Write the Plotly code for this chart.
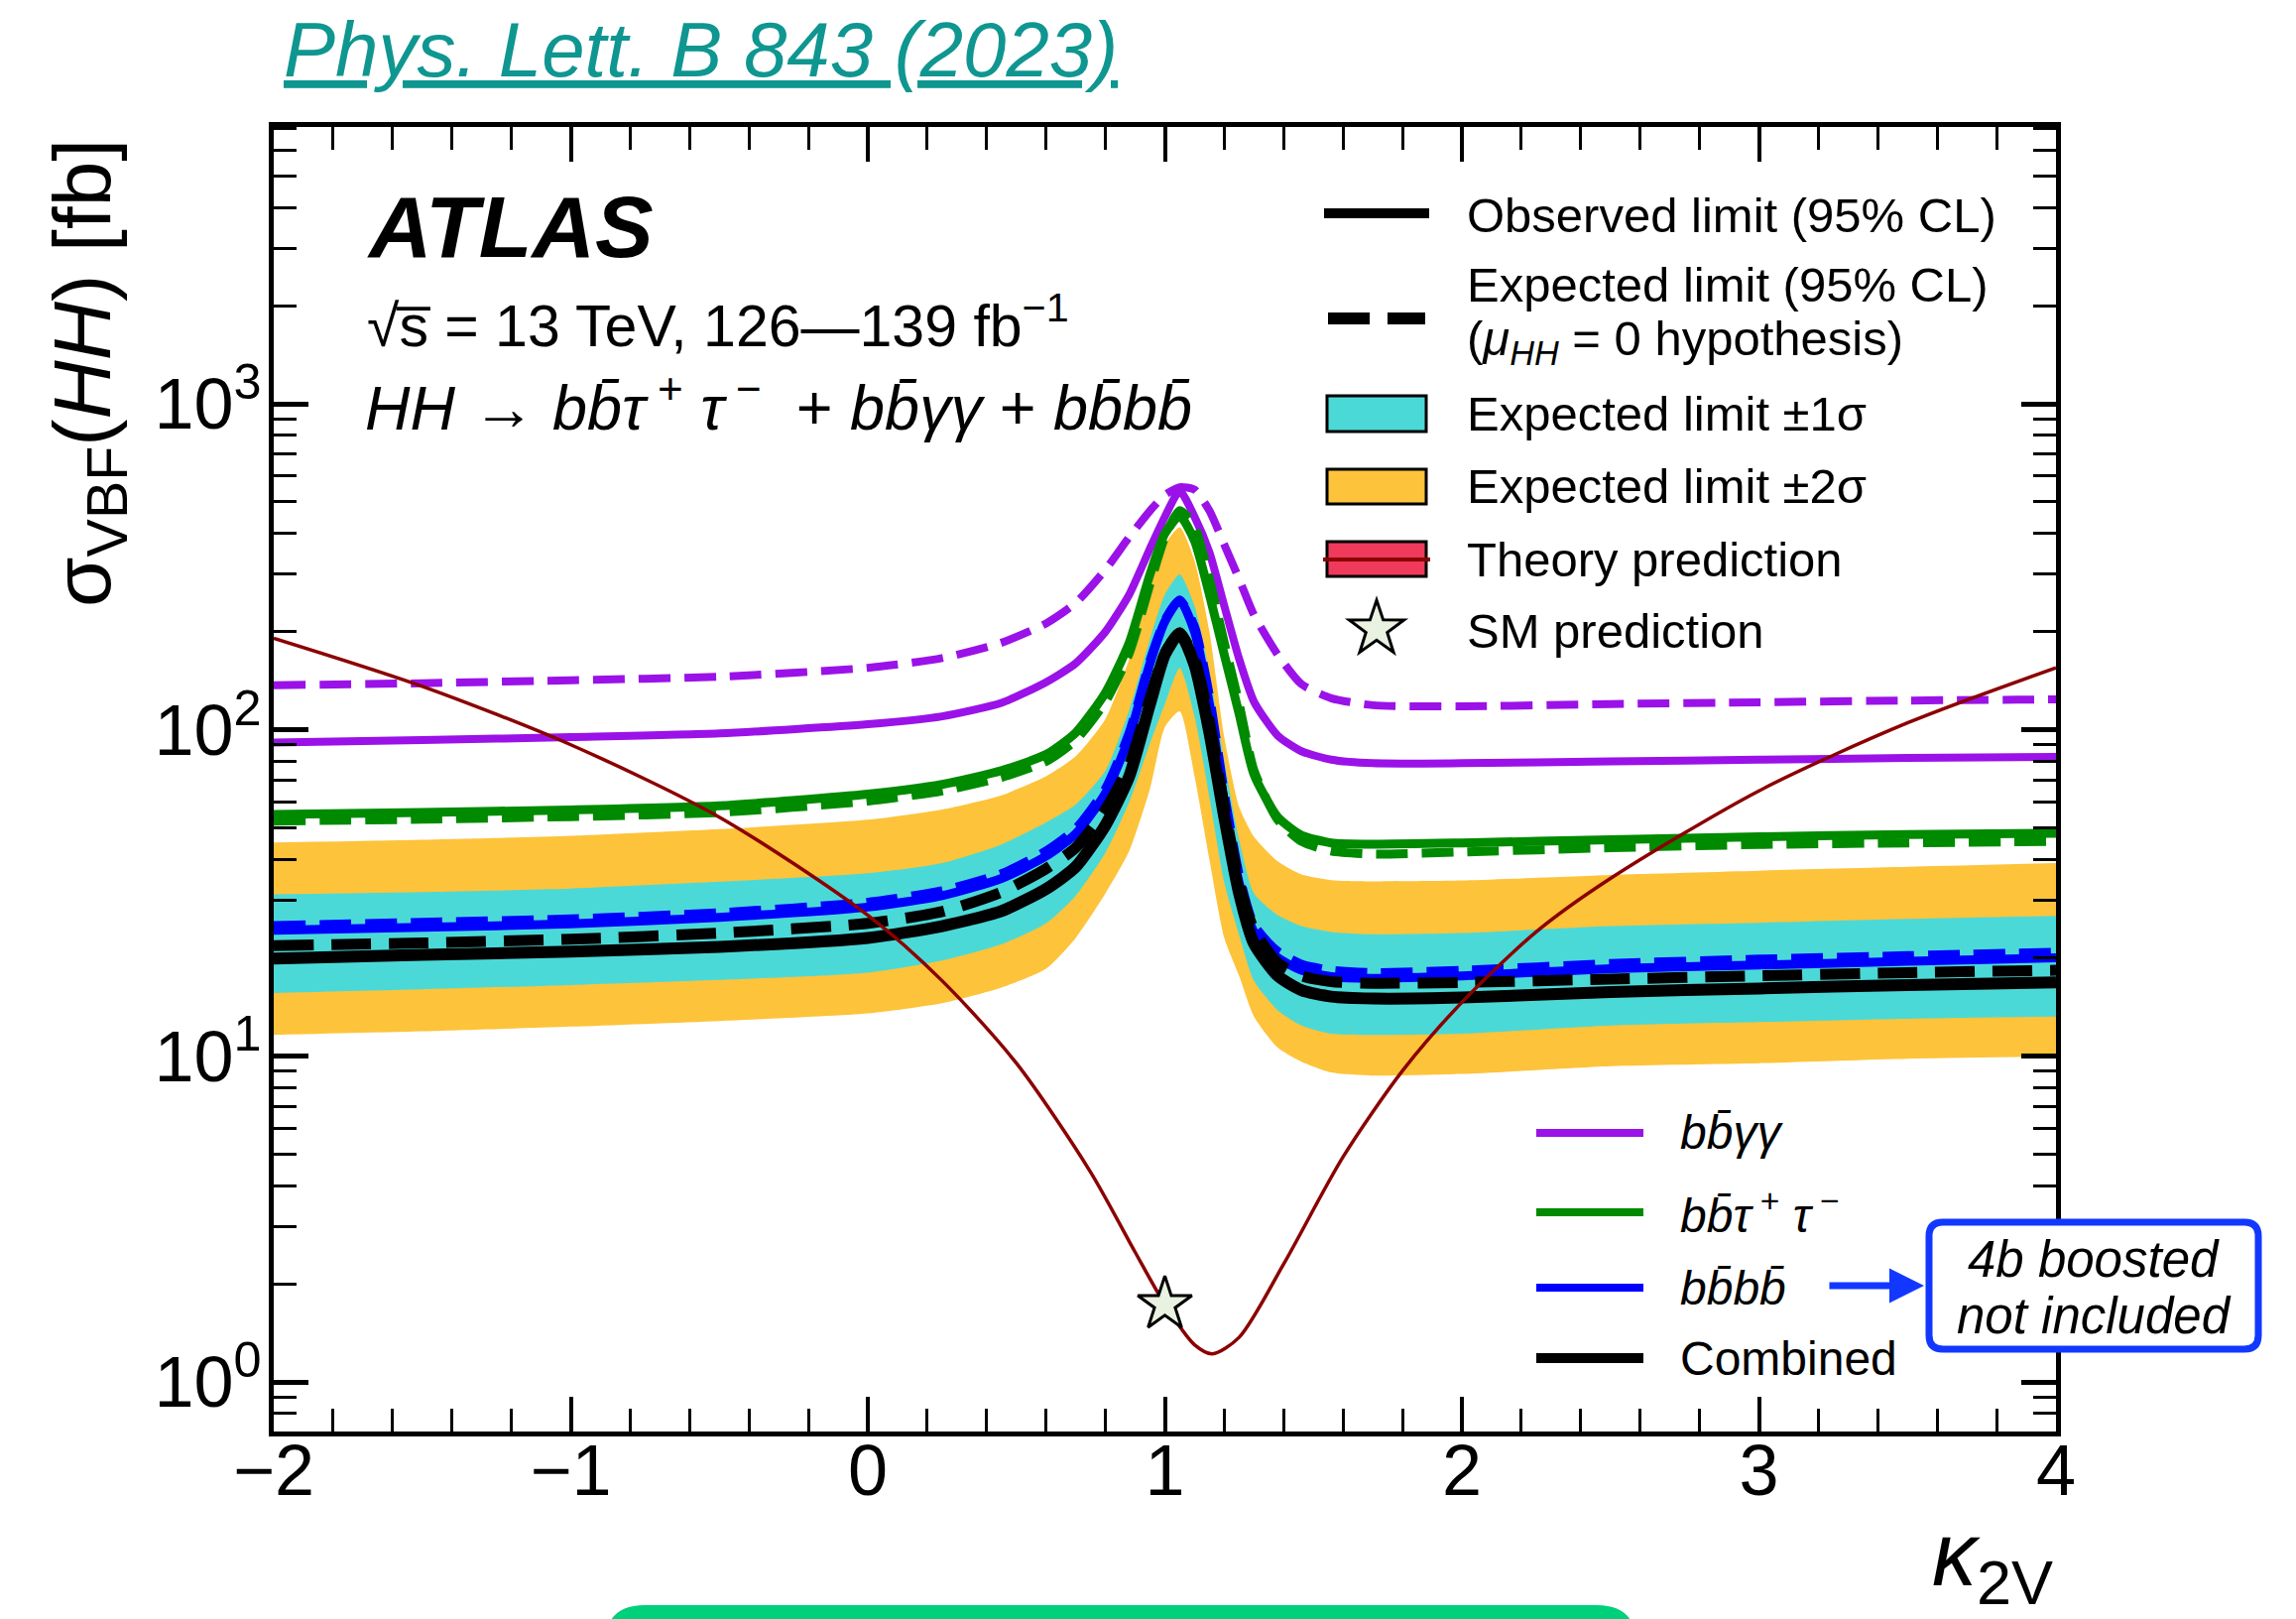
import plotly.graph_objects as go

# ---------------- data ----------------
k2v = [-2.0, -1.5, -1.0, -0.5, 0.0, 0.25, 0.45, 0.6, 0.7, 0.8, 0.88, 0.95, 1.0, 1.05,
       1.1, 1.15, 1.2, 1.25, 1.3, 1.38, 1.46, 1.56, 1.7, 2.0, 2.5, 3.0, 3.5, 4.0]

obs_combined = [19.9, 20.4, 20.9, 21.6, 23.0, 25.0, 27.8, 32.5, 38.0, 51.0, 72.0, 120, 170, 198,
                158, 98, 54, 31.5, 22.1, 17.6, 15.9, 15.2, 15.0, 15.1, 15.7, 16.1, 16.5, 16.8]
exp_combined = [21.8, 22.2, 22.8, 23.8, 25.5, 27.7, 31.8, 37.5, 43.5, 57, 78, 125, 172, 198,
                165, 106, 58, 34, 24.3, 19.3, 17.6, 16.9, 16.7, 16.8, 17.2, 17.6, 18.0, 18.3]
exp_1s_up = [31.3, 31.8, 32.6, 34.2, 36.3, 39, 44.5, 52, 59, 75, 115, 190, 260, 300,
             240, 150, 80, 46, 31.5, 27, 25, 24, 23.6, 23.8, 25.0, 25.6, 26.3, 26.9]
exp_1s_dn = [15.6, 16.0, 16.5, 17.1, 18.0, 19.6, 22.0, 25.5, 31, 42, 60, 91, 120, 155,
             110, 62, 34, 23.5, 17, 13.8, 12.4, 11.7, 11.6, 11.7, 12.4, 12.7, 13.0, 13.2]
exp_2s_up = [45.1, 46, 47.3, 49.6, 53, 57, 63, 72, 83, 108, 165, 280, 370, 418,
             330, 200, 95, 58, 47, 39.5, 36, 34.6, 34.3, 34.5, 35.9, 37, 38, 39]
exp_2s_dn = [11.6, 11.9, 12.3, 12.8, 13.5, 14.5, 16.2, 18.5, 23, 31.5, 42.5, 66, 102, 114,
             72, 40, 23, 17.6, 13.2, 10.6, 9.6, 8.9, 8.7, 8.8, 9.3, 9.5, 9.8, 9.95]

obs_bbbb = [24.3, 24.8, 25.4, 26.6, 28.6, 31.0, 35.0, 41.0, 48.0, 64.0, 95.0, 160, 215, 250,
            200, 120, 60, 34, 24, 20, 18.3, 17.5, 17.3, 17.6, 18.5, 19.0, 19.5, 20.0]
exp_bbbb = [25.1, 25.7, 26.3, 27.5, 29.6, 32.1, 36.2, 42.5, 49.7, 66.0, 98.0, 163, 217, 250,
            207, 127, 64, 36, 25.2, 20.9, 19.1, 18.3, 18.0, 18.3, 19.2, 19.8, 20.3, 20.8]
obs_bbtautau = [55.0, 55.8, 56.8, 58.5, 63.5, 68, 75, 84, 98, 130, 185, 300, 400, 453,
                380, 260, 170, 112, 73, 54, 47.5, 45, 44.6, 45, 46, 47, 47.7, 48.2]
exp_bbtautau = [52.5, 53.2, 54.2, 55.8, 60.5, 65, 71.5, 80, 93, 122, 172, 280, 390, 470,
                420, 290, 185, 120, 75, 53, 45.5, 42.5, 41.6, 42.2, 43.5, 44.5, 45, 45.5]
obs_bbyy = [91.5, 93, 95, 97.5, 104, 110, 121, 140, 160, 200, 260, 360, 450, 540,
            450, 350, 240, 165, 122, 96, 86, 81, 79, 79, 80, 81, 82, 82.6]
exp_bbyy = [137, 139, 142, 145.5, 155, 166, 185, 212, 245, 310, 390, 470, 525, 555,
            545, 470, 370, 290, 225, 170, 138, 125, 119, 118, 120, 121.5, 123, 124]

k2v_theory = [-2.0, -1.5, -1.0, -0.5, 0.0, 0.25, 0.5, 0.75, 0.9, 1.0, 1.1, 1.16, 1.25,
              1.4, 1.6, 1.8, 2.0, 2.25, 2.5, 3.0, 3.5, 4.0]
xs_theory = [191, 136, 90, 54, 27, 17, 9.5, 4.4, 2.5, 1.73, 1.30, 1.22, 1.37,
             2.3, 4.9, 9.0, 14.6, 24, 35, 65, 105, 155]

sm_k2v = [1.0]
sm_xs = [1.73]

x_tickvals = [-2, -1, 0, 1, 2, 3, 4]
x_ticktext = ["\u22122", "\u22121", "0", "1", "2", "3", "4"]
y_tickvals = [1, 10, 100, 1000]
y_ticktext = ["10<sup>0</sup>", "10<sup>1</sup>", "10<sup>2</sup>", "10<sup>3</sup>"]
y_minor = [m * d for d in (0.1, 1, 10, 100, 1000) for m in range(2, 10)]

# ---------------- style ----------------
W, H = 2315, 1632
PL, PR, PT, PB = 276, 2073, 128, 1443
FONT = "Liberation Sans, Arial, Helvetica, sans-serif"
C_PURPLE = "#9a12e8"
C_GREEN = "#008a00"
C_BLUE = "#0000ff"
C_BLACK = "#000000"
C_CYAN = "#4bd9d8"
C_YELLOW = "#fdc33a"
C_RED = "#8b0000"
C_THBOX = "#ef3a5c"
C_LINKBLUE = "#1238ff"
C_TEAL = "#0f9690"


def px(X):
    return (X - PL) / (PR - PL)


def py(Y):
    return (PB - Y) / (PB - PT)


fig = go.Figure()
SM = 0.6

# bands
fig.add_trace(go.Scatter(x=k2v, y=exp_2s_dn, mode="lines", line=dict(width=0, shape="spline", smoothing=SM),
                         hoverinfo="skip", showlegend=False))
fig.add_trace(go.Scatter(x=k2v, y=exp_2s_up, mode="lines", line=dict(width=0, shape="spline", smoothing=SM),
                         fill="tonexty", fillcolor=C_YELLOW, showlegend=False, name="Expected limit ±2σ"))
fig.add_trace(go.Scatter(x=k2v, y=exp_1s_dn, mode="lines", line=dict(width=0, shape="spline", smoothing=SM),
                         hoverinfo="skip", showlegend=False))
fig.add_trace(go.Scatter(x=k2v, y=exp_1s_up, mode="lines", line=dict(width=0, shape="spline", smoothing=SM),
                         fill="tonexty", fillcolor=C_CYAN, showlegend=False, name="Expected limit ±1σ"))


def add_line(y, color, width, dash, name):
    fig.add_trace(go.Scatter(x=k2v, y=y, mode="lines", name=name, showlegend=False,
                             line=dict(color=color, width=width, dash=dash, shape="spline", smoothing=SM)))


add_line(exp_bbyy, C_PURPLE, 8, "32px,14px", "bbγγ expected")
add_line(obs_bbyy, C_PURPLE, 8, "solid", "bbγγ observed")
add_line(exp_bbtautau, C_GREEN, 9, "32px,14px", "bbττ expected")
add_line(obs_bbtautau, C_GREEN, 9, "solid", "bbττ observed")
add_line(exp_bbbb, C_BLUE, 9, "32px,14px", "bbbb expected")
add_line(obs_bbbb, C_BLUE, 9, "solid", "bbbb observed")
add_line(exp_combined, C_BLACK, 11, "40px,18px", "Expected limit")
add_line(obs_combined, C_BLACK, 12, "solid", "Observed limit")

fig.add_trace(go.Scatter(x=k2v_theory, y=xs_theory, mode="lines", name="Theory prediction", showlegend=False,
                         line=dict(color=C_RED, width=3.5, shape="spline", smoothing=0.8)))
fig.add_trace(go.Scatter(x=sm_k2v, y=sm_xs, mode="markers", name="SM prediction", showlegend=False,
                         marker=dict(symbol="star", size=41, color="#e9f1e1",
                                     line=dict(color="black", width=3))))

# ---------------- manual legends / decorations ----------------
shapes = []
annotations = []


def hline(x0, x1, y, color, width, dash="solid"):
    shapes.append(dict(type="line", xref="paper", yref="paper", x0=px(x0), x1=px(x1),
                       y0=py(y), y1=py(y), line=dict(color=color, width=width, dash=dash)))


def box(x0, x1, y0, y1, fill, lc="black", lw=3):
    shapes.append(dict(type="rect", xref="paper", yref="paper", x0=px(x0), x1=px(x1),
                       y0=py(y1), y1=py(y0), fillcolor=fill, line=dict(color=lc, width=lw)))


def text(x, y, s, size, xanchor="left", color="black", angle=0, yanchor="middle"):
    annotations.append(dict(x=px(x), y=py(y), xref="paper", yref="paper", text=s, showarrow=False,
                            xanchor=xanchor, yanchor=yanchor, textangle=angle,
                            font=dict(size=size, color=color, family=FONT)))


def rounded_path(x0, y0, x1, y1, r):
    pts = [("M", x0 + r, y0), ("L", x1 - r, y0), ("Q", x1, y0, x1, y0 + r), ("L", x1, y1 - r),
           ("Q", x1, y1, x1 - r, y1), ("L", x0 + r, y1), ("Q", x0, y1, x0, y1 - r),
           ("L", x0, y0 + r), ("Q", x0, y0, x0 + r, y0)]
    out = ""
    for p in pts:
        if p[0] == "Q":
            out += "Q%.5f,%.5f %.5f,%.5f " % (px(p[1]), py(p[2]), px(p[3]), py(p[4]))
        else:
            out += "%s%.5f,%.5f " % (p[0], px(p[1]), py(p[2]))
    return out + "Z"


def star_path(cx, cy, R, r):
    import math
    out = ""
    for i in range(10):
        a = math.radians(-90 + 36 * i)
        rad = R if i % 2 == 0 else r
        out += ("M" if i == 0 else "L") + "%.5f,%.5f " % (px(cx + rad * math.cos(a)), py(cy + rad * math.sin(a)))
    return out + "Z"


# upper legend
LX0, LX1, TX = 1335, 1441, 1477
LS = 49
hline(LX0, LX1, 215, "black", 10)
text(TX, 217, "Observed limit (95% CL)", LS)
hline(1339, 1437, 321, "black", 12, "42px,18px")
text(TX, 287, "Expected limit (95% CL)", LS)
text(TX, 344, "(<i>\u03bc</i><sub><i>HH</i></sub> = 0 hypothesis)", LS)
box(1338, 1438, 399, 435, C_CYAN)
text(TX, 417, "Expected limit \u00b11\u03c3", LS)
box(1338, 1438, 473, 508, C_YELLOW)
text(TX, 490, "Expected limit \u00b12\u03c3", LS)
box(1338, 1438, 546, 581, C_THBOX)
hline(1334, 1442, 564, C_RED, 4)
text(TX, 564, "Theory prediction", LS)
shapes.append(dict(type="path", xref="paper", yref="paper", path=star_path(1388, 634, 29, 11.3),
                   fillcolor="#e9f1e1", line=dict(color="black", width=3)))
text(TX, 636, "SM prediction", LS)

# lower legend
BX0, BX1, BT = 1549, 1657, 1692
BS = 48
hline(BX0, BX1, 1142, C_PURPLE, 8)
text(BT, 1141, "<i>b</i><i>b\u0304</i><i>\u03b3\u03b3</i>", BS)
hline(BX0, BX1, 1222, C_GREEN, 8)
text(BT, 1222, "<i>bb\u0304\u03c4</i><sup> +</sup><i> \u03c4</i><sup> \u2212</sup>", BS)
hline(BX0, BX1, 1298, C_BLUE, 8)
text(BT, 1298, "<i>bb\u0304bb\u0304</i>", BS)
hline(BX0, BX1, 1369, C_BLACK, 10)
text(BT, 1369, "Combined", BS)

# ATLAS label block
annotations.append(dict(x=px(368), y=py(228), xref="paper", yref="paper", showarrow=False,
                        text="<b><i>ATLAS</i></b>", xanchor="left", yanchor="middle",
                        font=dict(size=88, family=FONT, color="black")))
text(368, 324, "\u221as\u0305 = 13 TeV, 126\u2014139 fb<sup>\u22121</sup>", 59)
text(366, 406, "<i>HH</i> \u2192 <i>bb\u0304\u03c4</i><sup> +</sup><i> \u03c4</i><sup> \u2212</sup>"
               "  + <i>bb\u0304\u03b3\u03b3</i> + <i>bb\u0304bb\u0304</i>", 63)

# axis titles
text(88, 376, "\u03c3<sub>VBF</sub>(<i>HH</i>) [fb]", 82, xanchor="center", angle=-90)
text(2072, 1574, "<i>\u03ba</i><sub>2V</sub>", 90, xanchor="right")

# title (reference)
text(284, 50, "<i><u>Phys. Lett. B 843 (2023)</u></i>", 78, color=C_TEAL)

# blue note box + arrow
shapes.append(dict(type="path", xref="paper", yref="paper", path=rounded_path(1945, 1232, 2277, 1360, 14),
                   fillcolor="white", line=dict(color=C_LINKBLUE, width=7)))
text(2111, 1269, "<i>4b boosted</i>", 51, xanchor="center")
text(2111, 1326, "<i>not included</i>", 51, xanchor="center")
annotations.append(dict(x=px(1940), y=py(1296), xref="paper", yref="paper", ax=-97, ay=0,
                        showarrow=True, arrowhead=2, arrowsize=1, arrowwidth=7,
                        arrowcolor=C_LINKBLUE, text=""))

# green box at the bottom (cut by the page edge)
shapes.append(dict(type="path", xref="paper", yref="paper", path=rounded_path(610, 1618, 1650, 1720, 40),
                   fillcolor="#00d07a", line=dict(width=0)))

fig.update_layout(
    width=W, height=H, autosize=False,
    margin=dict(l=PL, r=W - PR, t=PT, b=H - PB, pad=0),
    paper_bgcolor="white", plot_bgcolor="white",
    font=dict(family=FONT, color="black"),
    showlegend=False,
    shapes=shapes, annotations=annotations,
)
fig.update_xaxes(
    range=[-2, 4], tickmode="array", tickvals=x_tickvals, ticktext=x_ticktext,
    ticks="inside", ticklen=35, tickwidth=4, tickcolor="black", ticklabelstandoff=-27,
    minor=dict(ticks="inside", dtick=0.2, ticklen=23, tickwidth=3, tickcolor="black", showgrid=False),
    showline=True, linewidth=5, linecolor="black", mirror="ticks",
    showgrid=False, zeroline=False, tickfont=dict(size=72, family=FONT, color="black"),
)
fig.update_yaxes(
    type="log", range=[-0.152, 3.849], tickmode="array", tickvals=y_tickvals, ticktext=y_ticktext,
    ticks="inside", ticklen=35, tickwidth=5, tickcolor="black", ticklabelstandoff=-7,
    minor=dict(ticks="inside", tickmode="array", tickvals=y_minor, ticklen=23, tickwidth=3,
               tickcolor="black", showgrid=False),
    showline=True, linewidth=5, linecolor="black", mirror="ticks",
    showgrid=False, zeroline=False, tickfont=dict(size=72, family=FONT, color="black"),
)

fig.write_html("out.html")
